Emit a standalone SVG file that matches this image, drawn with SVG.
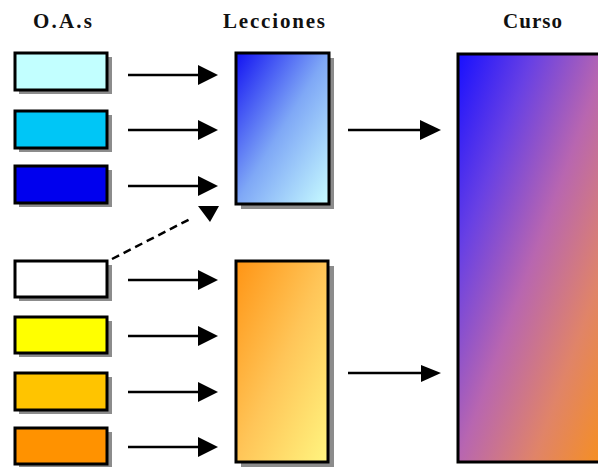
<svg xmlns="http://www.w3.org/2000/svg" width="598" height="467" viewBox="0 0 598 467">
<style>
.t{font-family:"Liberation Serif","Times New Roman",serif;font-weight:bold;font-size:21px;fill:#111}
.b{stroke:#000;stroke-width:3}
.sh{fill:#8c8c8c}
.ln{stroke:#000;stroke-width:2.5;fill:none}
.hd{fill:#000}
</style>
<defs>
<linearGradient id="gBlue" x1="0" y1="0" x2="1" y2="1">
<stop offset="0" stop-color="#1212f2"/>
<stop offset="0.5" stop-color="#7fa8f6"/>
<stop offset="1" stop-color="#c8fcff"/>
</linearGradient>
<linearGradient id="gOr" x1="0" y1="0" x2="1" y2="1">
<stop offset="0" stop-color="#ff9414"/>
<stop offset="0.5" stop-color="#ffc558"/>
<stop offset="1" stop-color="#fff580"/>
</linearGradient>
<linearGradient id="gCur" x1="0" y1="0" x2="1" y2="1">
<stop offset="0" stop-color="#1810ff"/>
<stop offset="0.25" stop-color="#6840e4"/>
<stop offset="0.5" stop-color="#b866b0"/>
<stop offset="0.75" stop-color="#e08468"/>
<stop offset="1" stop-color="#f8901a"/>
</linearGradient>
</defs>
<g id="titles">
<text class="t" x="33" y="28" textLength="59" lengthAdjust="spacing">O.A.s</text>
<text class="t" x="223" y="28" textLength="102" lengthAdjust="spacing">Lecciones</text>
<text class="t" x="503" y="28" textLength="59" lengthAdjust="spacing">Curso</text>
</g>
<g id="oa1"><rect class="sh" x="19" y="57" width="93" height="37"/><rect class="b" x="15" y="53" width="92" height="37" fill="#c2ffff"/></g>
<g id="oa2"><rect class="sh" x="19" y="115" width="93" height="37"/><rect class="b" x="15" y="111" width="92" height="37" fill="#00c6f6"/></g>
<g id="oa3"><rect class="sh" x="19" y="170" width="93" height="37"/><rect class="b" x="15" y="166" width="92" height="37" fill="#0000ee"/></g>
<g id="oa4"><rect class="sh" x="19" y="265" width="93" height="36"/><rect class="b" x="15" y="261" width="92" height="36" fill="#ffffff"/></g>
<g id="oa5"><rect class="sh" x="19" y="321" width="93" height="36"/><rect class="b" x="15" y="317" width="92" height="36" fill="#ffff00"/></g>
<g id="oa6"><rect class="sh" x="19" y="377" width="93" height="37"/><rect class="b" x="15" y="373" width="92" height="37" fill="#ffc400"/></g>
<g id="oa7"><rect class="sh" x="19" y="432" width="93" height="36"/><rect class="b" x="15" y="428" width="92" height="36" fill="#ff9200"/></g>
<g id="leccion1"><rect class="sh" x="241" y="58" width="93" height="151"/><rect class="b" x="236" y="53" width="93" height="151" fill="url(#gBlue)"/></g>
<g id="leccion2"><rect class="sh" x="241" y="266" width="93" height="201"/><rect class="b" x="236" y="261" width="92" height="201" fill="url(#gOr)"/></g>
<g id="curso"><rect class="b" x="458" y="54" width="150" height="408" fill="url(#gCur)"/></g>
<g id="connectors">
<line class="ln" x1="128" y1="75" x2="200" y2="75" stroke-width="2"/><polygon class="hd" points="198,65 218,75 198,85"/>
<line class="ln" x1="128" y1="130" x2="200" y2="130" stroke-width="3"/><polygon class="hd" points="198,120 218,130 198,140"/>
<line class="ln" x1="128" y1="186" x2="200" y2="186"/><polygon class="hd" points="198,176 218,186 198,196"/>
<line class="ln" x1="112" y1="259" x2="192" y2="218" stroke-width="3" stroke-dasharray="8,5"/><polygon class="hd" points="198,206 219,206 210,222"/>
<line class="ln" x1="128" y1="280" x2="200" y2="280"/><polygon class="hd" points="198,270 218,280 198,290"/>
<line class="ln" x1="128" y1="336" x2="200" y2="336"/><polygon class="hd" points="198,326 218,336 198,346"/>
<line class="ln" x1="128" y1="392" x2="200" y2="392" stroke-width="2"/><polygon class="hd" points="198,382 218,392 198,402"/>
<line class="ln" x1="128" y1="447" x2="200" y2="447"/><polygon class="hd" points="198,437 218,447 198,457"/>
<line class="ln" x1="348" y1="130" x2="422" y2="130" stroke-width="3"/><polygon class="hd" points="420,120 441,130 420,140"/>
<line class="ln" x1="348" y1="373" x2="424" y2="373" stroke-width="1.5"/><polygon class="hd" points="421,365 441,373 421,382"/>
</g>
</svg>
